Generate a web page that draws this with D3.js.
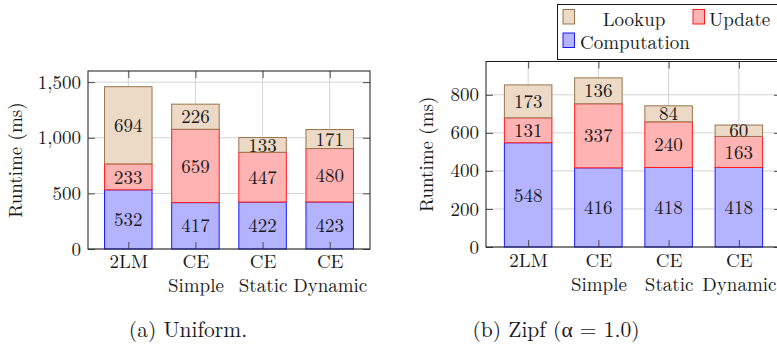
<!DOCTYPE html>
<html><head><meta charset="utf-8">
<script src="https://cdn.jsdelivr.net/npm/d3@7"></script>
<style>
body{margin:0;background:#fff;}
svg{display:block;}
</style>
</head><body>
<svg id="chart" width="777" height="345"></svg>
<script>
// ---- data ----
const categories = ["2LM", "CE Simple", "CE Static", "CE Dynamic"];
const seriesNames = ["Computation", "Update", "Lookup"];
const uniformComputation = [532, 417, 422, 423];
const uniformUpdate = [233, 659, 447, 480];
const uniformLookup = [694, 226, 133, 171];
const zipfComputation = [548, 416, 418, 418];
const zipfUpdate = [131, 337, 240, 163];
const zipfLookup = [173, 136, 84, 60];
const uniformTicks = [0, 500, 1000, 1500];
const zipfTicks = [0, 200, 400, 600, 800];
const legendOrder = ["Lookup", "Update", "Computation"];
const yLabel = "Runtime (ms)";
const captions = ["(a) Uniform.", "(b) Zipf (α = 1.0)"];

// ---- font detection: pick first installed serif face ----
function fontAvailable(name) {
  const c = document.createElement("canvas").getContext("2d");
  const s = "mmmmmmmmmmlliWWW0123456789Runtime";
  return ["monospace", "sans-serif", "serif"].some(base => {
    c.font = `40px ${base}`; const w0 = c.measureText(s).width;
    c.font = `40px "${name}", ${base}`; const w1 = c.measureText(s).width;
    return Math.abs(w0 - w1) > 0.01;
  });
}
const candidates = ["Latin Modern Roman", "CMU Serif", "Liberation Serif", "DejaVu Serif",
  "Noto Serif", "Tinos", "Times New Roman", "Nimbus Roman", "FreeSerif"];
const found = candidates.find(fontAvailable);
const FONT = found ? `"${found}", serif` : "serif";
const wide = found === "DejaVu Serif";

// ---- style ----
const fills = {Computation: "#b3b3ff", Update: "#ffb3b3", Lookup: "#ecd9c6"};
const strokes = {Computation: "#1a1aff", Update: "#ff1a1a", Lookup: "#99754f"};
const FS = wide ? 16.3 : 19;
const CAPFS = wide ? 18 : 21.5;

const svg = d3.select("#chart").style("font-family", FONT);

function drawPanel(cfg) {
  const g = svg.append("g");
  const x = d3.scalePoint().domain(categories).range([cfg.left, cfg.right]).padding(0.6);
  const y = d3.scaleLinear().domain([0, cfg.ymax]).range([cfg.bottom, cfg.top]);
  const bw = 47.5;

  // grid
  g.append("g").selectAll("line.h").data(cfg.ticks).join("line")
    .attr("x1", cfg.left).attr("x2", cfg.right)
    .attr("y1", d => y(d)).attr("y2", d => y(d))
    .attr("stroke", "#d3d3d3").attr("stroke-width", 1);
  g.append("g").selectAll("line.v").data(categories).join("line")
    .attr("x1", d => x(d)).attr("x2", d => x(d))
    .attr("y1", cfg.top).attr("y2", cfg.bottom)
    .attr("stroke", "#d3d3d3").attr("stroke-width", 1);

  // stacked bars
  const rows = categories.map((c, i) => ({
    cat: c,
    Computation: cfg.data[0][i],
    Update: cfg.data[1][i],
    Lookup: cfg.data[2][i]
  }));
  const stacked = d3.stack().keys(seriesNames)(rows);
  stacked.forEach(layer => {
    const key = layer.key;
    g.append("g").selectAll("rect").data(layer).join("rect")
      .attr("x", d => x(d.data.cat) - bw / 2)
      .attr("width", bw)
      .attr("y", d => y(d[1]))
      .attr("height", d => y(d[0]) - y(d[1]))
      .attr("fill", fills[key])
      .attr("stroke", strokes[key])
      .attr("stroke-width", 1);
  });
  stacked.forEach(layer => {
    g.append("g").selectAll("text").data(layer).join("text")
      .attr("x", d => x(d.data.cat))
      .attr("y", d => (y(d[0]) + y(d[1])) / 2)
      .attr("dy", "0.35em")
      .attr("text-anchor", "middle")
      .attr("font-family", FONT)
      .attr("font-size", FS)
      .attr("fill", "#1a1a1a")
      .text(d => d[1] - d[0]);
  });

  // axes (ticks inside)
  const yAxis = g.append("g").attr("transform", `translate(${cfg.left},0)`)
    .call(d3.axisLeft(y).tickValues(cfg.ticks).tickFormat(d3.format(","))
      .tickSizeInner(-7).tickSizeOuter(0).tickPadding(7));
  const yAxisR = g.append("g").attr("transform", `translate(${cfg.right},0)`)
    .call(d3.axisRight(y).tickValues(cfg.ticks).tickFormat("")
      .tickSizeInner(-7).tickSizeOuter(0));
  const xAxis = g.append("g").attr("transform", `translate(0,${cfg.bottom})`)
    .call(d3.axisBottom(x).tickSizeInner(-7).tickSizeOuter(0).tickPadding(8));
  const xAxisT = g.append("g").attr("transform", `translate(0,${cfg.top})`)
    .call(d3.axisTop(x).tickFormat("").tickSizeInner(-7).tickSizeOuter(0));
  [yAxis, yAxisR, xAxis, xAxisT].forEach(a => {
    a.attr("font-family", FONT).attr("font-size", FS);
    a.select(".domain").remove();
    a.selectAll(".tick line").attr("stroke", "#4d4d4d").attr("stroke-width", 1);
    a.selectAll("text").attr("font-size", FS).attr("font-family", FONT).attr("fill", "#1a1a1a");
  });
  xAxis.selectAll(".tick text").each(function(d) {
    const t = d3.select(this);
    t.text(null).attr("dy", null).attr("y", cfg.labelBase - cfg.bottom);
    d.split(" ").forEach((w, i) => {
      t.append("tspan").attr("x", 0).attr("dy", i === 0 ? 0 : 23.5).text(w);
    });
  });

  // frame
  g.append("rect")
    .attr("x", cfg.left).attr("y", cfg.top)
    .attr("width", cfg.right - cfg.left).attr("height", cfg.bottom - cfg.top)
    .attr("fill", "none").attr("stroke", "#1a1a1a").attr("stroke-width", 1);

  // y label
  g.append("text")
    .attr("transform", `translate(${cfg.yLabelX},${(cfg.top + cfg.bottom) / 2}) rotate(-90)`)
    .attr("text-anchor", "middle")
    .attr("font-family", FONT)
    .attr("font-size", FS)
    .attr("fill", "#1a1a1a")
    .text(yLabel);

  // caption
  svg.append("text")
    .attr("x", cfg.capX).attr("y", 337)
    .attr("text-anchor", "middle")
    .attr("font-family", FONT)
    .attr("font-size", CAPFS)
    .attr("fill", "#1a1a1a")
    .text(cfg.caption);
}

drawPanel({
  left: 88, right: 370, top: 71, bottom: 249, ymax: 1600,
  ticks: uniformTicks, data: [uniformComputation, uniformUpdate, uniformLookup],
  labelBase: 268, yLabelX: 22, capX: 188, caption: captions[0]
});
drawPanel({
  left: 486, right: 781, top: 61.5, bottom: 247, ymax: 975,
  ticks: zipfTicks, data: [zipfComputation, zipfUpdate, zipfLookup],
  labelBase: 267, yLabelX: 433, capX: 556, caption: captions[1]
});

// legend
const lg = svg.append("g");
lg.append("rect").attr("x", 557.5).attr("y", 4.5).attr("width", 240).attr("height", 55)
  .attr("fill", "#fff").attr("stroke", "#1a1a1a").attr("stroke-width", 1);
const legendItems = [
  {key: legendOrder[0], sx: 563, sy: 9.5, tx: 634, anchor: "middle", ty: 25.5},
  {key: legendOrder[1], sx: 693, sy: 9.5, tx: 709, anchor: "start", ty: 25.5},
  {key: legendOrder[2], sx: 563, sy: 33, tx: 580, anchor: "start", ty: 48.5}
];
legendItems.forEach(it => {
  lg.append("rect").attr("x", it.sx).attr("y", it.sy).attr("width", 11.5).attr("height", 14.5)
    .attr("fill", fills[it.key]).attr("stroke", strokes[it.key]).attr("stroke-width", 1);
  lg.append("text").attr("x", it.tx).attr("y", it.ty).attr("text-anchor", it.anchor)
    .attr("font-family", FONT).attr("font-size", FS).attr("fill", "#1a1a1a").text(it.key);
});
</script>
</body></html>
